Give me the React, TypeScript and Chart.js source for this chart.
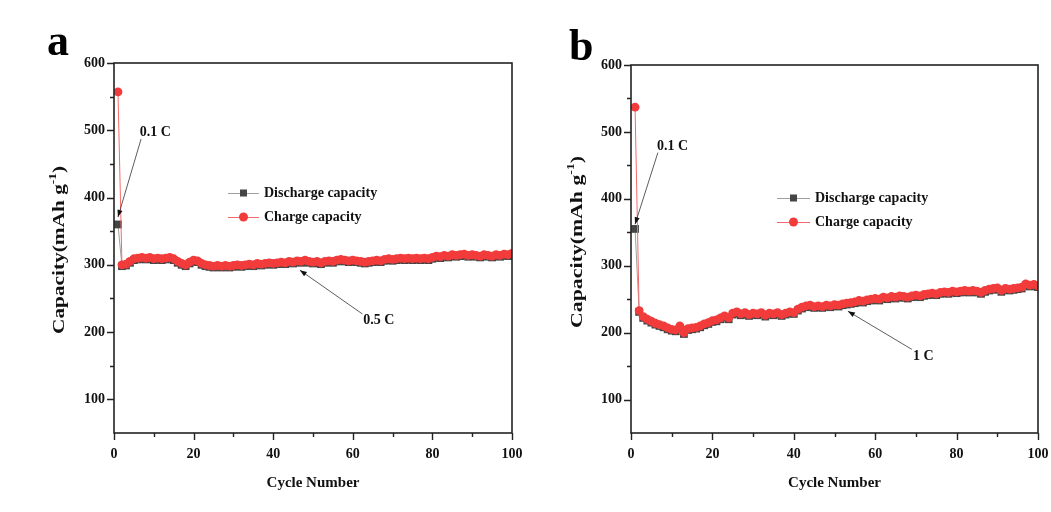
import React, { useEffect, useRef } from "react";
import { Chart, registerables } from "chart.js";

Chart.register(...registerables);

const cycles = Array.from({ length: 100 }, (_, i) => i + 1);

const chargeA = [
  557, 300, 301, 305, 309, 310, 311, 310, 311, 309,
  310, 309, 310, 311, 309, 305, 302, 300, 304, 307,
  306, 302, 300, 299, 298, 299, 298, 299, 298, 299,
  300, 299, 300, 301, 300, 302, 301, 302, 303, 302,
  303, 304, 303, 305, 304, 306, 305, 307, 305, 304,
  305, 303, 305, 306, 305, 307, 308, 307, 306, 307,
  306, 305, 304, 305, 306, 307, 306, 308, 309, 308,
  309, 310, 309, 310, 309, 310, 309, 310, 309, 311,
  313, 312, 314, 313, 315, 314, 315, 316, 314, 315,
  314, 313, 315, 314, 313, 315, 314, 316, 315, 317,
];

const dischargeA = [
  360, 298, 299, 303, 307, 308, 309, 308, 309, 307,
  308, 307, 308, 309, 307, 303, 300, 298, 302, 305,
  304, 300, 298, 297, 296, 297, 296, 297, 296, 297,
  298, 297, 298, 299, 298, 300, 299, 300, 301, 300,
  301, 302, 301, 303, 302, 304, 303, 305, 303, 302,
  303, 301, 303, 304, 303, 305, 306, 305, 304, 305,
  304, 303, 302, 303, 304, 305, 304, 306, 307, 306,
  307, 308, 307, 308, 307, 308, 307, 308, 307, 309,
  311, 310, 312, 311, 313, 312, 313, 314, 312, 313,
  312, 311, 313, 312, 311, 313, 312, 314, 313, 315,
];

const chargeB = [
  537, 233, 224, 220, 217, 214, 212, 210, 207, 205,
  204, 210, 200, 206, 207, 208, 210, 213, 215, 218,
  219, 222, 225, 222, 229, 231, 228, 230, 227, 229,
  228, 230, 226, 229, 228, 230, 227, 229, 231, 230,
  235, 238, 240, 241, 239, 240, 239, 241, 240, 242,
  241, 243, 244, 245, 246, 248, 247, 249, 250, 251,
  250, 253, 252, 254, 253, 255, 254, 253, 255, 256,
  255, 257, 258, 259, 258, 260, 261, 260, 262, 261,
  262, 263, 262, 263, 262, 260, 263, 265, 266, 267,
  263, 266, 265, 266, 267, 268, 273, 271, 272, 270,
];

const dischargeB = [
  355, 231, 222, 218, 215, 212, 210, 208, 205, 203,
  202, 207, 198, 204, 205, 206, 208, 211, 213, 216,
  217, 220, 223, 220, 227, 229, 226, 228, 225, 227,
  226, 228, 224, 227, 226, 228, 225, 227, 229, 228,
  233, 236, 238, 239, 237, 238, 237, 239, 238, 240,
  239, 241, 242, 243, 244, 246, 245, 247, 248, 249,
  248, 251, 250, 252, 251, 253, 252, 251, 253, 254,
  253, 255, 256, 257, 256, 258, 259, 258, 260, 259,
  260, 261, 260, 261, 260, 258, 261, 263, 264, 265,
  261, 264, 263, 264, 265, 266, 271, 269, 270, 268,
];

const yMajorTicks = [100, 200, 300, 400, 500, 600];
const yMinorTicks = [150, 250, 350, 450, 550];
const xMajorTicks = [0, 20, 40, 60, 80, 100];
const xMinorTicks = [10, 30, 50, 70, 90];

const legendLabels = ["Discharge capacity", "Charge capacity"];
const xTitle = "Cycle Number";

const FONT = "'Liberation Serif', 'Times New Roman', serif";
const RED = "#f23b3b";
const RED_LINE = "#f46a6a";
const DARK = "#454545";
const GRAY_LINE = "#a0a0a0";

type Ann = { text: string; tx: number; ty: number; x0: number; y0: number; x1: number; y1: number };

function drawArrow(ctx: CanvasRenderingContext2D, x0: number, y0: number, x1: number, y1: number) {
  ctx.beginPath();
  ctx.moveTo(x0, y0);
  ctx.lineTo(x1, y1);
  ctx.stroke();
  const ang = Math.atan2(y1 - y0, x1 - x0);
  const L = 7, W = 2.6;
  const bx = x1 - L * Math.cos(ang);
  const by = y1 - L * Math.sin(ang);
  ctx.beginPath();
  ctx.moveTo(x1, y1);
  ctx.lineTo(bx + W * Math.sin(ang), by - W * Math.cos(ang));
  ctx.lineTo(bx - W * Math.sin(ang), by + W * Math.cos(ang));
  ctx.closePath();
  ctx.fill();
}

const decoPlugin = {
  id: "deco",
  afterDraw(chart: any, _args: any, opts: any) {
    const ctx: CanvasRenderingContext2D = chart.ctx;
    const { left, right, top, bottom } = chart.chartArea;
    const xs = chart.scales.x;
    const ys = chart.scales.y;
    ctx.save();

    // box
    ctx.strokeStyle = "#222";
    ctx.lineWidth = 1.6;
    ctx.strokeRect(left, top, right - left, bottom - top);

    // ticks
    ctx.lineWidth = 1.4;
    ctx.beginPath();
    yMajorTicks.forEach((v) => {
      const y = Math.round(ys.getPixelForValue(v)) + 0.5;
      ctx.moveTo(left, y);
      ctx.lineTo(left - 7, y);
    });
    yMinorTicks.forEach((v) => {
      const y = Math.round(ys.getPixelForValue(v)) + 0.5;
      ctx.moveTo(left, y);
      ctx.lineTo(left - 4, y);
    });
    xMajorTicks.forEach((v) => {
      const x = Math.round(xs.getPixelForValue(v)) + 0.5;
      ctx.moveTo(x, bottom);
      ctx.lineTo(x, bottom + 7);
    });
    xMinorTicks.forEach((v) => {
      const x = Math.round(xs.getPixelForValue(v)) + 0.5;
      ctx.moveTo(x, bottom);
      ctx.lineTo(x, bottom + 4);
    });
    ctx.stroke();

    // x title
    ctx.fillStyle = "#111";
    ctx.font = `bold 15px ${FONT}`;
    ctx.textAlign = "center";
    ctx.textBaseline = "middle";
    ctx.fillText(xTitle, (left + right) / 2, opts.xTitleY);

    // y title with superscript, stretched along its length
    ctx.save();
    ctx.translate(opts.yTitleX, opts.yTitleY);
    ctx.rotate(-Math.PI / 2);
    const main = "Capacity(mAh g";
    const sup = "-1";
    const end = ")";
    const fs = opts.yTitleSize;
    const supFs = Math.round(fs * 0.62);
    ctx.font = `bold ${fs}px ${FONT}`;
    const wMain = ctx.measureText(main).width;
    const wEnd = ctx.measureText(end).width;
    ctx.font = `bold ${supFs}px ${FONT}`;
    const wSup = ctx.measureText(sup).width;
    const total = wMain + wSup + wEnd;
    ctx.scale(opts.yTitleLen / total, 1);
    let cx = -total / 2;
    ctx.textAlign = "left";
    ctx.textBaseline = "middle";
    ctx.font = `bold ${fs}px ${FONT}`;
    ctx.fillText(main, cx, 0);
    cx += wMain;
    ctx.font = `bold ${supFs}px ${FONT}`;
    ctx.fillText(sup, cx, -fs * 0.38);
    cx += wSup;
    ctx.font = `bold ${fs}px ${FONT}`;
    ctx.fillText(end, cx, 0);
    ctx.restore();

    // panel letter
    ctx.font = `bold 44px ${FONT}`;
    ctx.textAlign = "left";
    ctx.textBaseline = "alphabetic";
    ctx.fillStyle = "#000";
    ctx.fillText(opts.letter, opts.letterX, opts.letterY);

    // legend
    const lx = opts.legendX;
    const ly = opts.legendY;
    const lw = opts.legendW;
    ctx.font = `bold 14px ${FONT}`;
    ctx.textBaseline = "middle";
    ctx.fillStyle = "#111";
    ctx.strokeStyle = GRAY_LINE;
    ctx.lineWidth = 1;
    ctx.beginPath();
    ctx.moveTo(lx, ly + 0.5);
    ctx.lineTo(lx + lw, ly + 0.5);
    ctx.stroke();
    ctx.fillStyle = DARK;
    ctx.fillRect(lx + lw / 2 - 3.5, ly - 3.5, 7, 7);
    ctx.fillStyle = "#111";
    ctx.fillText(legendLabels[0], lx + lw + 5, ly);
    const ly2 = ly + 24;
    ctx.strokeStyle = RED_LINE;
    ctx.beginPath();
    ctx.moveTo(lx, ly2 + 0.5);
    ctx.lineTo(lx + lw, ly2 + 0.5);
    ctx.stroke();
    ctx.fillStyle = RED;
    ctx.beginPath();
    ctx.arc(lx + lw / 2, ly2, 4.5, 0, Math.PI * 2);
    ctx.fill();
    ctx.fillStyle = "#111";
    ctx.fillText(legendLabels[1], lx + lw + 5, ly2);

    // annotations
    (opts.annotations as Ann[]).forEach((a) => {
      ctx.strokeStyle = "#333";
      ctx.fillStyle = "#111";
      ctx.lineWidth = 0.8;
      drawArrow(
        ctx,
        xs.getPixelForValue(a.x0),
        ys.getPixelForValue(a.y0),
        xs.getPixelForValue(a.x1),
        ys.getPixelForValue(a.y1)
      );
      ctx.font = `bold 14px ${FONT}`;
      ctx.textAlign = "left";
      ctx.textBaseline = "middle";
      ctx.fillText(a.text, xs.getPixelForValue(a.tx), ys.getPixelForValue(a.ty));
    });

    ctx.restore();
  },
};

function makeConfig(charge: number[], discharge: number[], p: any) {
  return {
    type: "line" as const,
    data: {
      datasets: [
        {
          label: legendLabels[1],
          data: cycles.map((c, i) => ({ x: c, y: charge[i] })),
          borderColor: RED_LINE,
          borderWidth: 1,
          backgroundColor: RED,
          pointBackgroundColor: RED,
          pointBorderWidth: 0,
          pointRadius: 4.4,
          pointStyle: "circle",
          order: 1,
        },
        {
          label: legendLabels[0],
          data: cycles.map((c, i) => ({ x: c, y: discharge[i] })),
          borderColor: GRAY_LINE,
          borderWidth: 1,
          backgroundColor: DARK,
          pointBackgroundColor: DARK,
          pointBorderWidth: 0,
          pointRadius: 5.5,
          pointStyle: "rect",
          order: 2,
        },
      ],
    },
    options: {
      responsive: false,
      animation: false,
      devicePixelRatio: 1,
      layout: { padding: { top: p.top, right: p.right, left: 0, bottom: 0 } },
      plugins: {
        legend: { display: false },
        tooltip: { enabled: false },
        deco: p.deco,
      },
      scales: {
        x: {
          type: "linear",
          min: 0,
          max: 100,
          afterBuildTicks: (s: any) => {
            s.ticks = xMajorTicks.map((v) => ({ value: v }));
          },
          afterFit: (s: any) => {
            s.height = 512 - p.bottom;
            s.paddingLeft = 0;
            s.paddingRight = 0;
          },
          grid: { display: false, drawTicks: false },
          border: { display: false },
          ticks: {
            font: { family: FONT, size: 14, weight: "bold" },
            color: "#111",
            padding: 13,
            maxRotation: 0,
            callback: (v: any) => String(v),
          },
        },
        y: {
          type: "linear",
          min: 50,
          max: 600,
          afterBuildTicks: (s: any) => {
            s.ticks = yMajorTicks.map((v) => ({ value: v }));
          },
          afterFit: (s: any) => {
            s.width = p.left;
            s.paddingTop = 0;
            s.paddingBottom = 0;
          },
          grid: { display: false, drawTicks: false },
          border: { display: false },
          ticks: {
            font: { family: FONT, size: 14, weight: "bold" },
            color: "#111",
            padding: 9,
            callback: (v: any) => String(v),
          },
        },
      },
    },
    plugins: [decoPlugin],
  };
}

const annA: Ann[] = [
  { text: "0.1 C", tx: 6.5, ty: 497, x0: 6.8, y0: 487, x1: 1.0, y1: 371 },
  { text: "0.5 C", tx: 62.6, ty: 218, x0: 62.4, y0: 227, x1: 46.7, y1: 292 },
];
const annB: Ann[] = [
  { text: "0.1 C", tx: 6.4, ty: 478, x0: 6.6, y0: 469, x1: 1.0, y1: 362 },
  { text: "1 C", tx: 69.3, ty: 164, x0: 69.0, y0: 175, x1: 53.3, y1: 232 },
];

export default function App() {
  const refA = useRef<HTMLCanvasElement>(null);
  const refB = useRef<HTMLCanvasElement>(null);

  useEffect(() => {
    const a = new Chart(
      refA.current as HTMLCanvasElement,
      makeConfig(chargeA, dischargeA, {
        left: 114,
        right: 13,
        top: 63,
        bottom: 433,
        deco: {
          letter: "a",
          letterX: 47,
          letterY: 55,
          xTitleY: 483,
          yTitleX: 60,
          yTitleY: 250,
          yTitleSize: 16,
          yTitleLen: 168,
          legendX: 228,
          legendY: 193,
          legendW: 31,
          annotations: annA,
        },
      }) as any
    );
    const b = new Chart(
      refB.current as HTMLCanvasElement,
      makeConfig(chargeB, dischargeB, {
        left: 106,
        right: 13,
        top: 65,
        bottom: 433,
        deco: {
          letter: "b",
          letterX: 44,
          letterY: 60,
          xTitleY: 483,
          yTitleX: 53,
          yTitleY: 242,
          yTitleSize: 16,
          yTitleLen: 172,
          legendX: 252,
          legendY: 198,
          legendW: 33,
          annotations: annB,
        },
      }) as any
    );
    return () => {
      a.destroy();
      b.destroy();
    };
  }, []);

  return (
    <div style={{ position: "absolute", left: 0, top: 0, width: 1051, height: 512, background: "#fff" }}>
      <canvas ref={refA} width={525} height={512} style={{ position: "absolute", left: 0, top: 0 }} />
      <canvas ref={refB} width={526} height={512} style={{ position: "absolute", left: 525, top: 0 }} />
    </div>
  );
}
